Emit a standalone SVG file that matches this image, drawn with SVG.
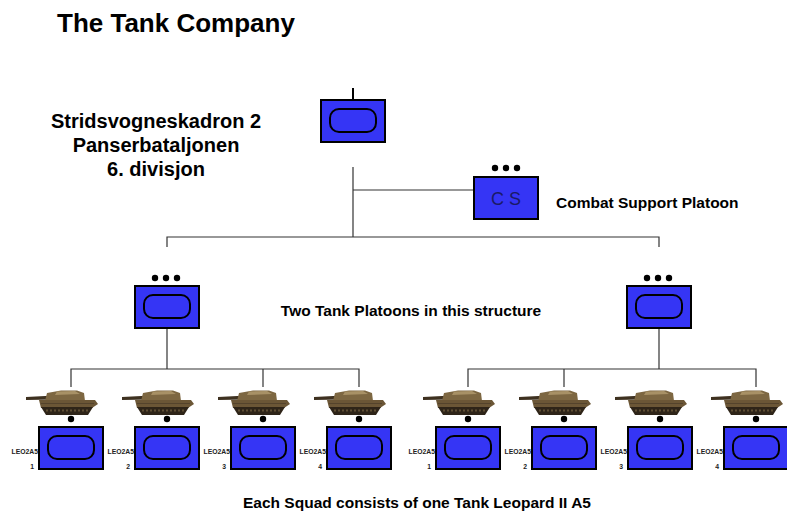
<svg xmlns="http://www.w3.org/2000/svg" xmlns:xlink="http://www.w3.org/1999/xlink" width="787" height="517" viewBox="0 0 787 517">
  <style>
    .txt { font-family: "Liberation Sans", Arial, sans-serif; font-weight: bold; fill: #000; }
    .lbl { font-family: "Liberation Sans", Arial, sans-serif; font-size: 6.8px; font-weight: bold; fill: #222; text-anchor: end; }
    .unit { fill: #3535f5; stroke: #000; stroke-width: 2; }
    .inner { fill: none; stroke: #000; stroke-width: 2; }
    .conn { stroke: #333; stroke-width: 1.2; fill: none; }
    .dot { fill: #000; }
  </style>
  <defs>
    <!-- unit symbol: blue box with rounded armour oval -->
    <g id="unitBox">
      <rect class="unit" x="0" y="0" width="64" height="42"/>
      <rect class="inner" x="9" y="9" width="46" height="23" rx="9"/>
    </g>
    <!-- three-dot platoon marker -->
    <g id="platoonDots">
      <circle class="dot" cx="-11" cy="0" r="3.2"/>
      <circle class="dot" cx="0" cy="0" r="3.2"/>
      <circle class="dot" cx="11" cy="0" r="3.2"/>
    </g>
    <!-- tank silhouette, origin at centre of hull -->
    <g id="tank">
      <path d="M-45,397 L-16,395.5 L-16,399.5 L-45,400 Z" fill="#3e3120"/>
      <path d="M-24,393 L-10,390.5 L6,390.5 L13,393 L14,401 L-26,401 Z" fill="#7d6742"/>
      <path d="M-14,391.5 L4,391 L9,394 L-16,395 Z" fill="#a89166"/>
      <path d="M-32,400 L24,400 L27,404 L21,408 L-30,408 Z" fill="#6b5636"/>
      <path d="M-30,407 L22,407 L17,415 L-25,415 Z" fill="#2e2418"/>
      <path d="M-25,410.5 L17,410.5" stroke="#5e4e34" stroke-width="1.8" stroke-dasharray="2 2"/>
      <path d="M-30,403.5 L23,403.5" stroke="#4e3f29" stroke-width="0.8"/>
    </g>
    <!-- single squad: tank, dot and box -->
    <g id="squad">
      <use xlink:href="#tank"/>
      <circle class="dot" cx="0" cy="419" r="3.2"/>
      <use xlink:href="#unitBox" x="-32" y="427"/>
    </g>
  </defs>

  <!-- headings -->
  <text class="txt" x="57" y="32" font-size="26">The Tank Company</text>
  <g class="txt" font-size="20" text-anchor="middle">
    <text x="156" y="128">Stridsvogneskadron 2</text>
    <text x="156" y="152">Panserbataljonen</text>
    <text x="156" y="176">6. divisjon</text>
  </g>
  <text class="txt" x="556" y="208" font-size="15.5">Combat Support Platoon</text>
  <text class="txt" x="411" y="316" font-size="15.5" text-anchor="middle">Two Tank Platoons in this structure</text>
  <text class="txt" x="417" y="508" font-size="15.5" text-anchor="middle">Each Squad consists of one Tank Leopard II A5</text>

  <!-- connectors -->
  <g id="connectors" class="conn">
    <path d="M353,167 V237"/>
    <path d="M353,190 H473"/>
    <path d="M167,247 V237 H659 V247"/>
    <path d="M167,328 V369"/>
    <path d="M71,387 V369 H359 V387"/>
    <path d="M263,369 V387"/>
    <path d="M659,328 V369"/>
    <path d="M468,387 V369 H756 V387"/>
    <path d="M564,369 V387"/>
  </g>

  <!-- company HQ -->
  <g id="company">
    <path d="M353,88 V100" stroke="#000" stroke-width="2"/>
    <use xlink:href="#unitBox" x="321" y="100"/>
  </g>

  <!-- combat support platoon -->
  <g id="combat-support">
    <use xlink:href="#platoonDots" x="506" y="168"/>
    <rect class="unit" x="474" y="177" width="64" height="42"/>
    <text x="506" y="205" font-family="'Liberation Sans', Arial, sans-serif" font-size="18" fill="#1a1a66" text-anchor="middle">C S</text>
  </g>

  <!-- tank platoons -->
  <g id="platoon-1">
    <use xlink:href="#platoonDots" x="166" y="278"/>
    <use xlink:href="#unitBox" x="135" y="286"/>
  </g>
  <g id="platoon-2">
    <use xlink:href="#platoonDots" x="658" y="278"/>
    <use xlink:href="#unitBox" x="627" y="286"/>
  </g>

  <!-- squads, platoon 1 -->
  <g id="p1-squad-1"><use xlink:href="#squad" x="71"/><text class="lbl" x="38" y="454">LEO2A5</text><text class="lbl" x="34" y="469">1</text></g>
  <g id="p1-squad-2"><use xlink:href="#squad" x="167"/><text class="lbl" x="134" y="454">LEO2A5</text><text class="lbl" x="130" y="469">2</text></g>
  <g id="p1-squad-3"><use xlink:href="#squad" x="263"/><text class="lbl" x="230" y="454">LEO2A5</text><text class="lbl" x="226" y="469">3</text></g>
  <g id="p1-squad-4"><use xlink:href="#squad" x="359"/><text class="lbl" x="326" y="454">LEO2A5</text><text class="lbl" x="322" y="469">4</text></g>

  <!-- squads, platoon 2 -->
  <g id="p2-squad-1"><use xlink:href="#squad" x="468"/><text class="lbl" x="435" y="454">LEO2A5</text><text class="lbl" x="431" y="469">1</text></g>
  <g id="p2-squad-2"><use xlink:href="#squad" x="564"/><text class="lbl" x="531" y="454">LEO2A5</text><text class="lbl" x="527" y="469">2</text></g>
  <g id="p2-squad-3"><use xlink:href="#squad" x="660"/><text class="lbl" x="627" y="454">LEO2A5</text><text class="lbl" x="623" y="469">3</text></g>
  <g id="p2-squad-4"><use xlink:href="#squad" x="756"/><text class="lbl" x="723" y="454">LEO2A5</text><text class="lbl" x="719" y="469">4</text></g>
</svg>
